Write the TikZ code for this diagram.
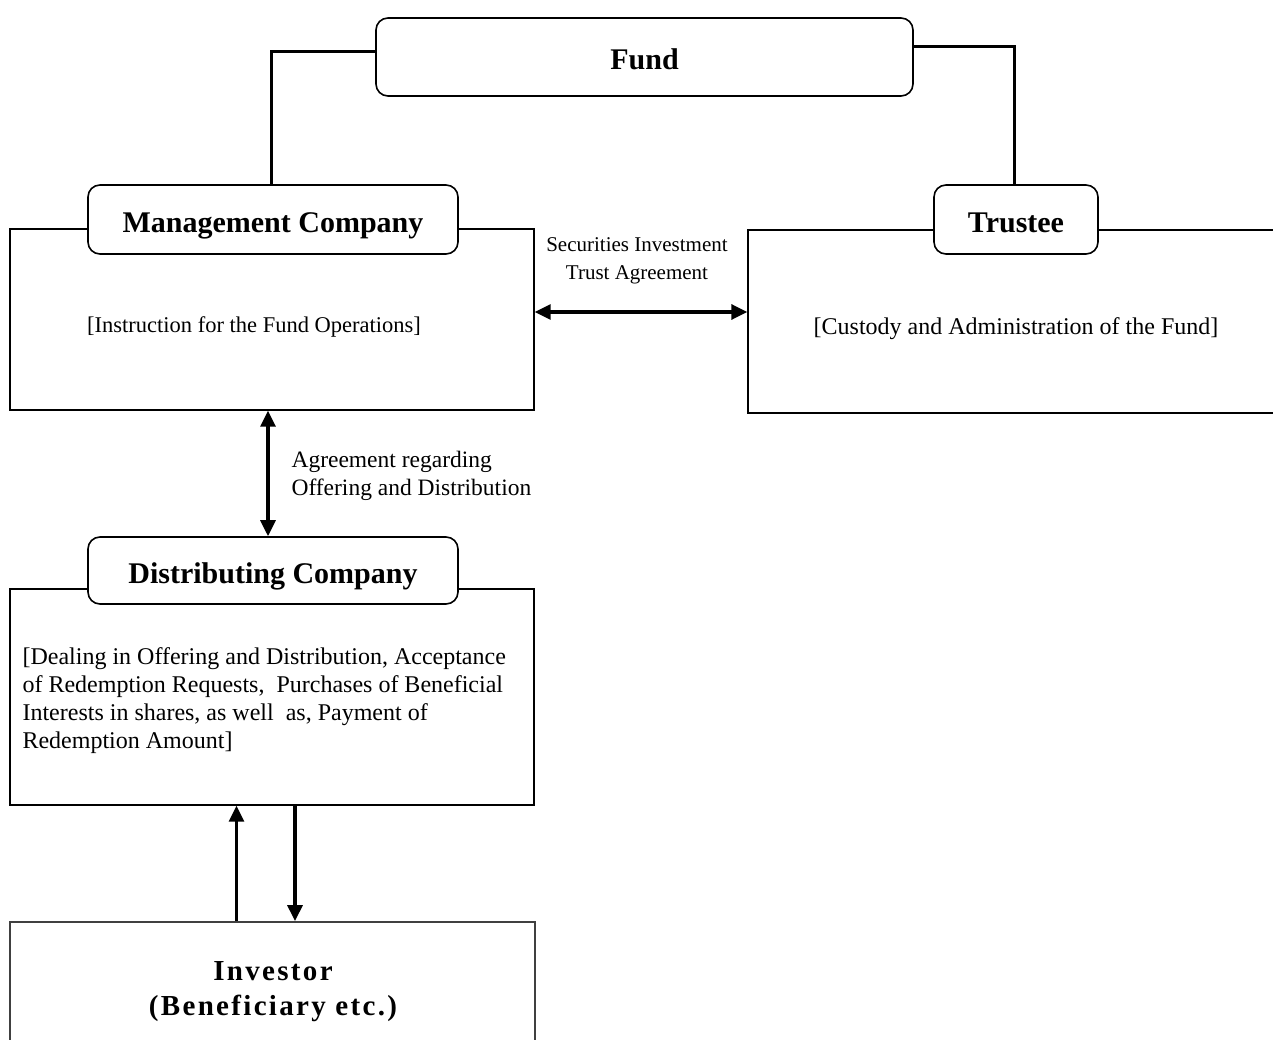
\documentclass[tikz,border=0pt]{standalone}
\usepackage{fontspec}
\setmainfont{Liberation Serif}
\usetikzlibrary{arrows.meta}
\begin{document}
\begin{tikzpicture}[x=1pt,y=-1pt,
  headbox/.style={draw, line width=1.6pt, rounded corners=12pt, fill=white,
    inner sep=0pt, text height=26pt, text depth=0pt,
    font=\fontsize{30}{34}\selectfont\bfseries},
  outerbox/.style={draw, line width=1.4pt, inner sep=0pt},
  link/.style={line width=3pt},
  tip/.style={line width=3.2pt, -{Triangle[length=16pt,width=15pt]}},
  dtip/.style={line width=3.2pt, {Triangle[length=16pt,width=15pt]}-{Triangle[length=16pt,width=15pt]}},
  body/.style={font=\fontsize{24}{28}\selectfont},
  lbl/.style={font=\fontsize{21}{28}\selectfont}]
\useasboundingbox (0,0) rectangle (1273,1040);
\clip (0,0) rectangle (1273,1040);
\fill[white] (0,0) rectangle (1273,1040);

% Fund at the top
\node[headbox, minimum width=537pt, minimum height=78pt] (fund) at (644.5,57) {Fund};

% Management Company
\node[outerbox, minimum width=524pt, minimum height=181pt] (mgmtbox) at (272,319.5) {};
\node[headbox, minimum width=370pt, minimum height=69pt] (mgmthead) at (273,219.5) {Management Company};
\node[body, font=\fontsize{22.5}{28}\selectfont] (mgmttext) at (254,327) {[Instruction for the Fund Operations]};

% Trustee
\node[outerbox, minimum width=545pt, minimum height=183pt] (trustbox) at (1020.5,321.5) {};
\node[headbox, minimum width=164pt, minimum height=69pt] (trusthead) at (1016,219.5) {Trustee};
\node[body] (trusttext) at (1016,329) {[Custody and Administration of the Fund]};

% Distributing Company
\node[outerbox, minimum width=524pt, minimum height=216pt] (distbox) at (272,697) {};
\node[headbox, minimum width=370pt, minimum height=67pt] (disthead) at (273,570.5) {Distributing Company};
\node[body, anchor=north west, align=left] (disttext) at (19,644)
  {[Dealing in Offering and Distribution, Acceptance\\
   of Redemption Requests, \ Purchases of Beneficial\\
   Interests in shares, as well \ as, Payment of\\
   Redemption Amount]};

% Investor
\node[draw=black!75, line width=1.8pt, minimum width=525pt, minimum height=160pt,
  inner sep=0pt] (investor) at (272.5,1002) {};
\node[font=\fontsize{29}{35}\selectfont\bfseries\addfontfeatures{LetterSpace=8}, align=center]
  (invtext) at (273,992) {Investor\\(Beneficiary etc.)};

% Links from the Fund down to the two parties
\draw[link] ([yshift=5pt]fund.west) -| ([xshift=-2pt]mgmthead.north);
\draw[link] ([yshift=10pt]fund.east) -| ([xshift=-2pt]trusthead.north);

% Agreements
\draw[dtip] ([yshift=7.5pt]mgmtbox.east) -- ([yshift=7.5pt]mgmtbox.east -| trustbox.west);
\node[lbl, align=center] (secagr) at (637,261) {Securities Investment\\Trust Agreement};

\draw[dtip] ([xshift=-4pt]mgmtbox.south) -- ([xshift=-4pt]mgmtbox.south |- disthead.north);
\node[lbl, font=\fontsize{23.5}{28}\selectfont, anchor=west, align=left] (offagr) at (288,476)
  {Agreement regarding\\Offering and Distribution};

% Investor <-> Distributing Company
\draw[tip] ([xshift=-36pt]investor.north) -- ([xshift=-36pt]investor.north |- distbox.south);
\draw[tip] ([xshift=23pt]distbox.south) -- ([xshift=23pt]distbox.south |- investor.north);
\end{tikzpicture}
\end{document}
